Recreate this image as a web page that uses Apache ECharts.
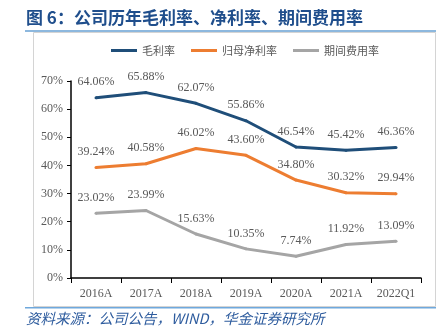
<!DOCTYPE html>
<html><head><meta charset="utf-8">
<script src="https://cdn.jsdelivr.net/npm/echarts@6/dist/echarts.min.js"></script>
<style>html,body{margin:0;padding:0;background:#fff}#c{width:448px;height:332px}</style>
</head><body><div id="c"></div>
<script>
const categories = ['2016A','2017A','2018A','2019A','2020A','2021A','2022Q1'];
const grossMargin = [64.06, 65.88, 62.07, 55.86, 46.54, 45.42, 46.36];
const netMargin = [39.24, 40.58, 46.02, 43.60, 34.80, 30.32, 29.94];
const expenseRate = [23.02, 23.99, 15.63, 10.35, 7.74, 11.92, 13.09];
const seriesNames = ['毛利率','归母净利率','期间费用率'];
const yTicks = {min: 0, max: 70, interval: 10};

const chart = echarts.init(document.getElementById('c'), null, {renderer:'canvas'});
const lbl = {show:true, position:'top', distance:8, color:'#595959', fontFamily:'Liberation Serif', fontSize:12,
  formatter: p => Number(p.value).toFixed(2) + '%'};
function mk(name, data, color){
  return {name, type:'line', data, symbol:'circle', symbolSize:3, showSymbol:true,
    lineStyle:{width:3, color}, itemStyle:{color, borderWidth:0}, label:lbl, animation:false, emphasis:{disabled:true}};
}
chart.setOption({
  animation:false,
  graphic:[
    {type:'text', left:26, top:9, style:{text:'图 6：公司历年毛利率、净利率、期间费用率', fill:'#1F4E8C', font:'bold 17px "Noto Sans CJK SC"'}},
    {type:'rect', shape:{x:25, y:30, width:411, height:2}, style:{fill:'#8DB8DE'}},
    {type:'rect', shape:{x:33.5, y:32.5, width:402, height:274}, style:{fill:'none', stroke:'#D4D4D4', lineWidth:1}},
    {type:'rect', shape:{x:25, y:307, width:411, height:1.5}, style:{fill:'#6FA8DC'}},
    {type:'text', left:26, top:311, style:{text:'资料来源：公司公告，WIND，华金证券研究所', fill:'#2E5C9E', font:'italic 14.5px "Noto Sans CJK SC"'}}
  ],
  legend:{left:106, top:40, icon:'rect', itemWidth:26, itemHeight:3, itemGap:16,
    textStyle:{color:'#595959', fontSize:11, fontFamily:'Noto Sans CJK SC'}, data:seriesNames},
  grid:{left:71, right:27, top:81, bottom:54, containLabel:false},
  xAxis:{type:'category', data:categories, boundaryGap:true,
    axisLine:{lineStyle:{color:'#000', width:1.5}}, axisTick:{show:true, length:5, inside:false, lineStyle:{color:'#000'}},
    axisLabel:{interval:0, color:'#595959', fontFamily:'Liberation Serif', fontSize:12, margin:10}},
  yAxis:{type:'value', min:yTicks.min, max:yTicks.max, interval:yTicks.interval,
    axisLine:{show:true, lineStyle:{color:'#000', width:1.5}}, axisTick:{show:true, length:4, lineStyle:{color:'#000'}},
    splitLine:{show:false},
    axisLabel:{color:'#595959', fontFamily:'Liberation Serif', fontSize:12, margin:8, formatter:'{value}%'}},
  series:[mk(seriesNames[0], grossMargin, '#1F4E79'), mk(seriesNames[1], netMargin, '#ED7D31'), mk(seriesNames[2], expenseRate, '#A5A5A5')]
});
</script></body></html>
